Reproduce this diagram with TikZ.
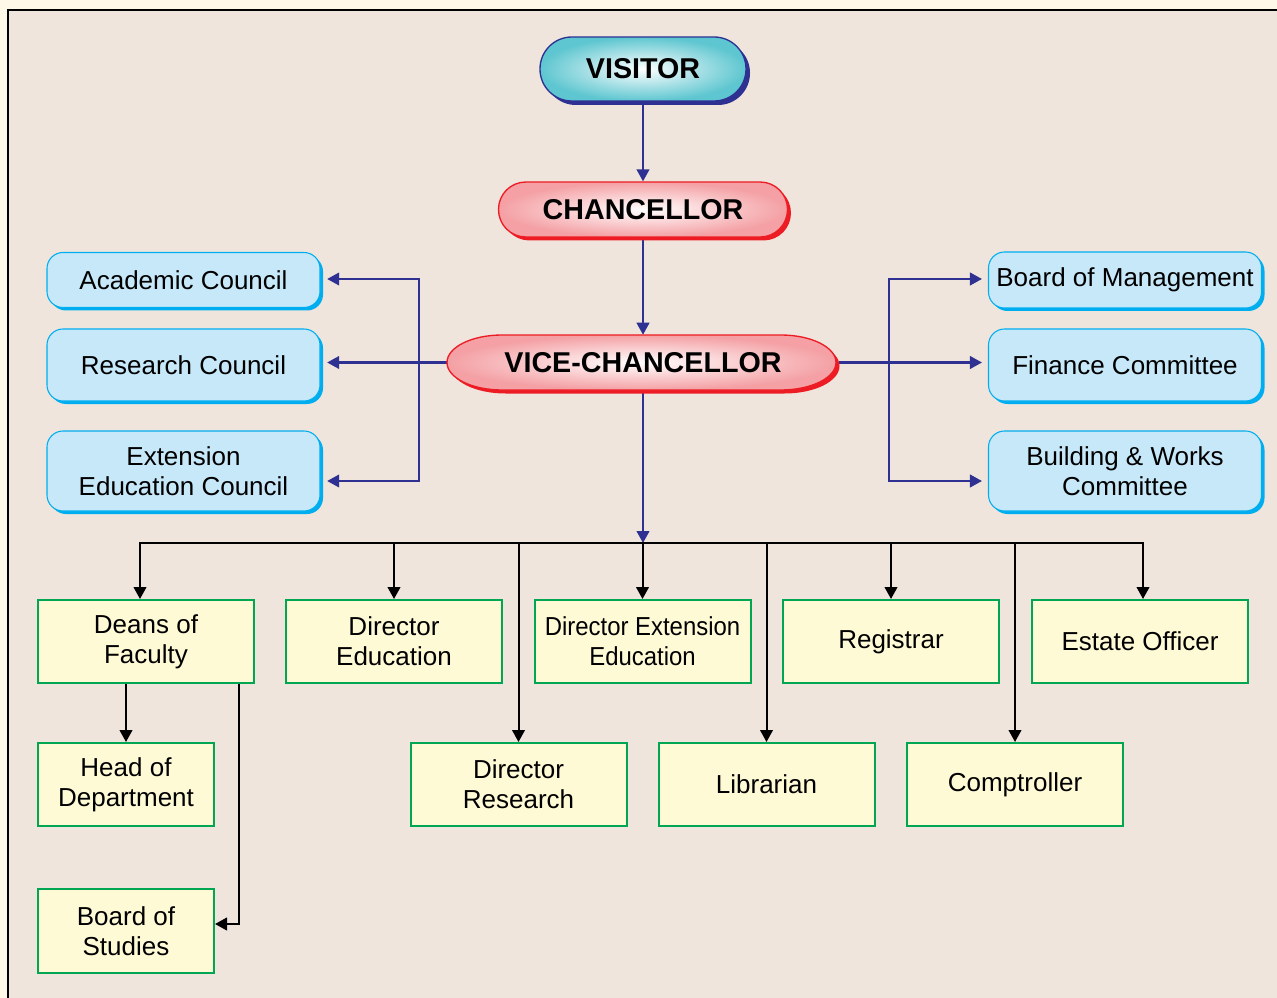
\documentclass[tikz,border=0pt]{standalone}
\usepackage{fontspec}
\setmainfont{Liberation Sans}
\newfontfamily\condfont[FakeStretch=0.92]{Liberation Sans}
\usetikzlibrary{arrows.meta,calc,shadows}
\definecolor{cream}{HTML}{FEF8E8}
\definecolor{paper}{HTML}{EFE5DD}
\definecolor{navy}{HTML}{2E3192}
\definecolor{redb}{HTML}{ED1C24}
\definecolor{pinkf}{HTML}{F4A0A4}
\definecolor{tealf}{HTML}{5EC6D0}
\definecolor{cyanb}{HTML}{00AEEF}
\definecolor{skyf}{HTML}{C7E8F9}
\definecolor{greenb}{HTML}{00A651}
\definecolor{yellowf}{HTML}{FFFAD6}
\pgfdeclarelayer{back}
\pgfdeclarelayer{wires}
\pgfsetlayers{back,wires,main}
\begin{document}
\begin{tikzpicture}[x=0.75pt,y=-0.75pt,
  pilltext/.style={font=\fontsize{21.5}{24}\selectfont\bfseries, inner sep=0pt},
  bluebox/.style={draw=cyanb, line width=0.8pt, fill=skyf, rounded corners=12pt,
    minimum width=204.75pt, align=center, inner sep=0pt,
    font=\fontsize{19.5}{22.5}\selectfont,
    general shadow={fill=cyanb, shadow xshift=2.25pt, shadow yshift=-2.25pt}},
  ybox/.style={draw=greenb, line width=1.5pt, fill=yellowf, minimum width=162pt,
    minimum height=62.25pt, align=center, inner sep=0pt,
    font=\fontsize{19.5}{22.5}\selectfont},
  navyline/.style={draw=navy, line width=1.5pt},
  navyarrow/.style={navyline, -{Triangle[length=9pt,width=9.5pt]}},
  blkline/.style={draw=black, line width=1.5pt},
  blkarrow/.style={blkline, -{Triangle[length=9pt,width=9.5pt]}},
]
\useasboundingbox (0,0) rectangle (1277,998);
\begin{pgfonlayer}{back}
\fill[cream] (0,0) rectangle (1277,998);
\fill[paper] (8,10) rectangle (1277,998);
\draw[line width=1.3pt] (8,998) -- (8,10) -- (1277,10);
\end{pgfonlayer}

% Top pills
\node[pilltext, draw=navy, line width=1pt, inner color=white, outer color=tealf,
  rounded corners=23.9pt, minimum width=154.5pt, minimum height=48pt,
  general shadow={fill=navy, shadow xshift=3pt, shadow yshift=-3pt}]
  (visitor) at (643,69) {VISITOR};
\node[pilltext, draw=redb, line width=1pt, inner color=white, outer color=pinkf,
  rounded corners=20.5pt, minimum width=216.75pt, minimum height=41.25pt,
  general shadow={fill=redb, shadow xshift=2.6pt, shadow yshift=-2.6pt}]
  (chancellor) at (643,209.5) {CHANCELLOR};

% Vice-chancellor shape
\fill[redb, shift={(3.5,3.5)}] (502,335) -- (781,335)
  .. controls (811.4,335) and (836,347.3) .. (836,362.5)
  .. controls (836,377.7) and (811.4,390) .. (781,390) -- (502,390)
  .. controls (471.6,390) and (447,377.7) .. (447,362.5)
  .. controls (447,347.3) and (471.6,335) .. (502,335) -- cycle;
\shadedraw[draw=redb, line width=1pt, inner color=white, outer color=pinkf] (502,335) -- (781,335)
  .. controls (811.4,335) and (836,347.3) .. (836,362.5)
  .. controls (836,377.7) and (811.4,390) .. (781,390) -- (502,390)
  .. controls (471.6,390) and (447,377.7) .. (447,362.5)
  .. controls (447,347.3) and (471.6,335) .. (502,335) -- cycle;
\node[pilltext, minimum width=294pt, minimum height=41.25pt] (vc) at (643,362.5) {VICE-CHANCELLOR};

% Councils (left)
\node[bluebox, minimum height=41.25pt] (academic) at (183.5,280) {Academic Council};
\node[bluebox, minimum height=54pt] (research) at (183.5,365) {Research Council};
\node[bluebox, minimum height=60pt] (extension) at (183.5,471) {Extension\\Education Council};

% Committees (right)
\node[bluebox, minimum height=42pt] (board) at (1125,280) {Board of Management};
\node[bluebox, minimum height=54pt] (finance) at (1125,365) {Finance Committee};
\node[bluebox, minimum height=60pt] (building) at (1125,471) {Building \& Works\\Committee};

% Officers
\node[ybox] (deans) at (146,641.5) {Deans of\\Faculty};
\node[ybox] (dired) at (394,641.5) {Director\\Education};
\node[ybox, font=\condfont\fontsize{19.5}{22.5}\selectfont] (direxe) at (642.5,641.5) {Director Extension\\Education};
\node[ybox] (reg) at (891,641.5) {Registrar};
\node[ybox] (est) at (1140,641.5) {Estate Officer};
\node[ybox, minimum width=132pt] (head) at (126,784.5) {Head of\\Department};
\node[ybox] (dirres) at (518.5,784.5) {Director\\Research};
\node[ybox] (lib) at (766.5,784.5) {Librarian};
\node[ybox] (comp) at (1015,784.5) {Comptroller};
\node[ybox, minimum width=132pt, minimum height=63pt] (bos) at (126,931) {Board of\\Studies};

\coordinate (lj) at (419,362.5);
\coordinate (rj) at (889,362.5);
\coordinate (bus) at (643,543);
\coordinate (busL) at (140,543);
\coordinate (busR) at (1143,543);

\begin{pgfonlayer}{wires}
\draw[navyarrow] (visitor.south) -- (chancellor.north);
\draw[navyarrow] (chancellor.south) -- (vc.north);
\draw[navyarrow] (vc.south) -- (bus);
\draw[navyarrow, shorten >=5pt] (vc.west) -- (vc.west -| research.east);
\draw[navyarrow, shorten >=5pt] (lj) |- ($(academic.east)+(0,-1)$);
\draw[navyarrow, shorten >=5pt] (lj) |- ($(extension.east)+(0,10)$);
\draw[navyarrow, shorten >=4.5pt] (vc.east) -- (vc.east -| finance.west);
\draw[navyarrow, shorten >=4.5pt] (rj) |- ($(board.west)+(0,-1)$);
\draw[navyarrow, shorten >=4.5pt] (rj) |- ($(building.west)+(0,10)$);

\draw[blkline, {Triangle[length=9pt,width=9.5pt]}-{Triangle[length=9pt,width=9.5pt]}]
  (busL |- deans.north) -- (busL) -- (busR) -- (busR |- est.north);
\draw[blkarrow] (bus -| dired.north) -- (dired.north);
\draw[blkarrow] (bus -| direxe.north) -- (direxe.north);
\draw[blkarrow] (bus -| reg.north) -- (reg.north);
\draw[blkarrow] (bus -| dirres.north) -- (dirres.north);
\draw[blkarrow] (bus -| lib.north) -- (lib.north);
\draw[blkarrow] (bus -| comp.north) -- (comp.north);
\draw[blkarrow] (head.north |- deans.south) -- (head.north);
\draw[blkarrow] ($(deans.south)+(93,0)$) |- ($(bos.east)+(0,-7)$);
\end{pgfonlayer}
\end{tikzpicture}
\end{document}
